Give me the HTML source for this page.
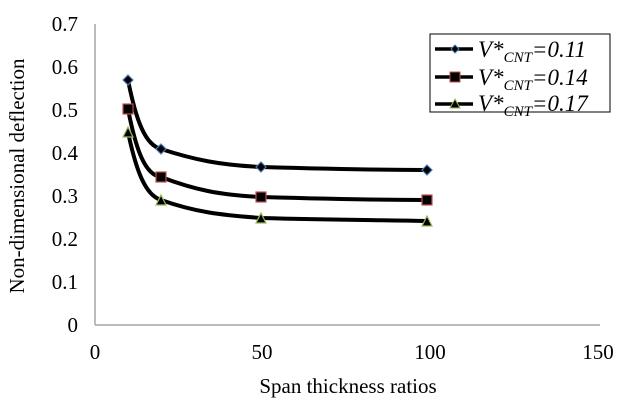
<!DOCTYPE html><html><head><style>body{margin:0;background:#fff}</style></head><body>
<svg width="628" height="410" xmlns="http://www.w3.org/2000/svg" font-family="Liberation Serif, serif">
<rect width="628" height="410" fill="#fff"/>
<line x1="95" y1="24" x2="95" y2="325" stroke="#a6a6a6" stroke-width="1.5"/>
<line x1="95" y1="325" x2="600" y2="325" stroke="#a6a6a6" stroke-width="1.5"/>
<g font-size="21" fill="#000" text-anchor="end">
<text x="78" y="332">0</text><text x="78" y="289">0.1</text><text x="78" y="246">0.2</text><text x="78" y="203">0.3</text><text x="78" y="160">0.4</text><text x="78" y="117">0.5</text><text x="78" y="74">0.6</text><text x="78" y="31">0.7</text>
</g>
<g font-size="21" text-anchor="middle">
<text x="95" y="359">0</text><text x="262" y="359">50</text><text x="430" y="359">100</text><text x="598" y="359">150</text>
<text x="348" y="393">Span thickness ratios</text>
<text transform="translate(24,176) rotate(-90)">Non-dimensional deflection</text>
</g>
<g fill="none" stroke="#000" stroke-width="4">
<path d="M128,80 C136,120 145,145 161,149 C195,160 220,165 261,167 C330,169 380,170 427,170"/>
<path d="M128,109 C136,150 145,175 161,177 C195,190 220,195 261,197 C330,199 380,200 427,200"/>
<path d="M128,132 C136,170 145,195 161,200 C195,212 220,215 261,218 C330,220 380,220 427,221"/>
</g>
<g stroke="#4a7ebb" stroke-width="1.2" fill="#000">
<path d="M128,75 L133,80 L128,85 L123,80Z"/><path d="M161,144 L166,149 L161,154 L156,149Z"/><path d="M261,162 L266,167 L261,172 L256,167Z"/><path d="M427,165 L432,170 L427,175 L422,170Z"/>
</g>
<g stroke="#c0504d" stroke-width="1.2" fill="#000">
<rect x="123" y="104" width="10" height="10"/><rect x="156" y="172" width="10" height="10"/><rect x="256" y="192" width="10" height="10"/><rect x="422" y="195" width="10" height="10"/>
</g>
<g stroke="#9bbb59" stroke-width="1.2" fill="#000">
<path d="M128,127 L133,137 L123,137Z"/><path d="M161,195 L166,205 L156,205Z"/><path d="M261,213 L266,223 L256,223Z"/><path d="M427,216 L432,226 L422,226Z"/>
</g>
<rect x="430" y="34" width="180" height="78" fill="#fff" stroke="#000" stroke-width="1"/>
<g stroke="#000" stroke-width="3.5"><line x1="435" y1="49" x2="473" y2="49"/><line x1="435" y1="77" x2="473" y2="77"/><line x1="435" y1="104" x2="473" y2="104"/></g>
<path d="M455,45 L459,49 L455,53 L451,49Z" fill="#000" stroke="#4a7ebb"/>
<rect x="450" y="72" width="10" height="10" fill="#000" stroke="#c0504d"/>
<path d="M455,99 L460,108 L450,108Z" fill="#000" stroke="#9bbb59"/>
<g font-size="23" font-style="italic">
<text x="478" y="57">V*<tspan font-size="15" dy="5">CNT</tspan><tspan dy="-5">=0.11</tspan></text>
<text x="478" y="85">V*<tspan font-size="15" dy="5">CNT</tspan><tspan dy="-5">=0.14</tspan></text>
<text x="478" y="111">V*<tspan font-size="15" dy="5">CNT</tspan><tspan dy="-5">=0.17</tspan></text>
</g>
</svg>
</body></html>
